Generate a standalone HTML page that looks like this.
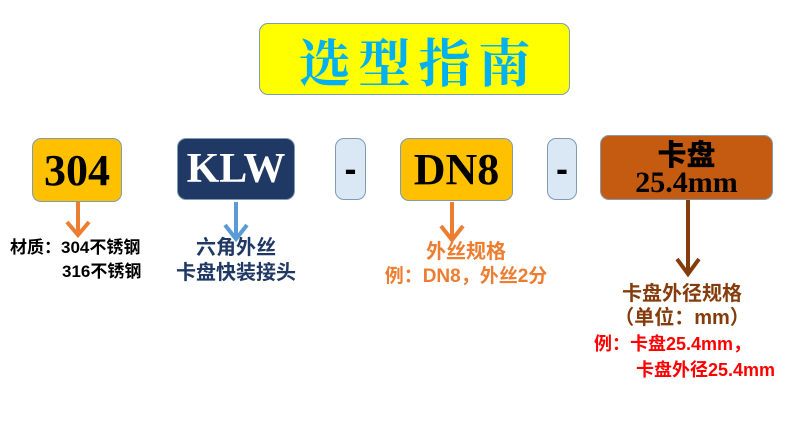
<!DOCTYPE html>
<html><head><meta charset="utf-8"><style>
body{margin:0;width:800px;height:431px;background:#fff;position:relative;overflow:hidden;font-family:"Liberation Sans","Noto Sans CJK SC",sans-serif}
.b{position:absolute;box-sizing:border-box;border:1.5px solid #7f9bb5;border-radius:9px;display:flex;align-items:center;justify-content:center;font-family:"Liberation Serif","Noto Serif CJK SC",serif;font-weight:bold}
.t{position:absolute;font-weight:bold;white-space:nowrap;font-size:17px;line-height:22px}
svg{position:absolute;left:0;top:0}
</style></head><body>
<div class="b" style="left:259px;top:23px;width:311px;height:72px;background:#ffff00;color:#00b0f0;font-family:'Noto Serif CJK SC',serif;font-weight:bold;font-size:52px;letter-spacing:8px;padding-left:8px">选型指南</div>
<div class="b" style="left:32px;top:138px;width:90px;height:64px;background:#ffc000;font-size:44px">304</div>
<div class="b" style="left:177px;top:138px;width:118px;height:62px;background:#203864;color:#fff;font-size:42px">KLW</div>
<div class="b" style="left:335px;top:138px;width:31px;height:62px;background:#dae8f5;font-family:'Liberation Sans',sans-serif;font-size:36px">-</div>
<div class="b" style="left:400px;top:138px;width:113px;height:63px;background:#ffc000;font-size:44px">DN8</div>
<div class="b" style="left:547px;top:138px;width:30px;height:62px;background:#dae8f5;font-family:'Liberation Sans',sans-serif;font-size:36px">-</div>
<div class="b" style="left:600px;top:135px;width:173px;height:65px;background:#c55a11;flex-direction:column;line-height:30px"><span style="font-family:'Noto Sans CJK SC',sans-serif;font-size:29px;font-weight:900">卡盘</span><span style="font-size:30px">25.4mm</span></div>
<svg width="800" height="431">
<g stroke-width="4" fill="none">
<path d="M78 202V233M67 222L78 235L89 222" stroke="#ed7d31"/>
<path d="M236 202V237M225 225L236 239L247 225" stroke="#5b9bd5"/>
<path d="M452 202V238M441 226L452 240L463 226" stroke="#ed7d31"/>
<path d="M688 200V272M677 259L688 274L699 259" stroke="#843c0c"/>
</g></svg>
<div class="t" style="left:10px;top:237px">材质：304不锈钢</div>
<div class="t" style="left:62px;top:261px">316不锈钢</div>
<div class="t" style="left:136px;top:236px;width:200px;text-align:center;color:#203864;font-size:20px;line-height:25px">六角外丝<br>卡盘快装接头</div>
<div class="t" style="left:366px;top:240px;width:200px;text-align:center;color:#ed7d31;font-size:19px;line-height:24px"><span style="font-size:20px">外丝规格</span><br>例：DN8，外丝2分</div>
<div class="t" style="left:582px;top:282px;width:200px;text-align:center;color:#843c0c;font-size:20px;line-height:24px">卡盘外径规格<br>（单位：mm）</div>
<div class="t" style="left:594px;top:331px;color:#ff0000;font-size:18px;line-height:26px">例：卡盘25.4mm，<br><span style="padding-left:42px">卡盘外径25.4mm</span></div>
</body></html>
